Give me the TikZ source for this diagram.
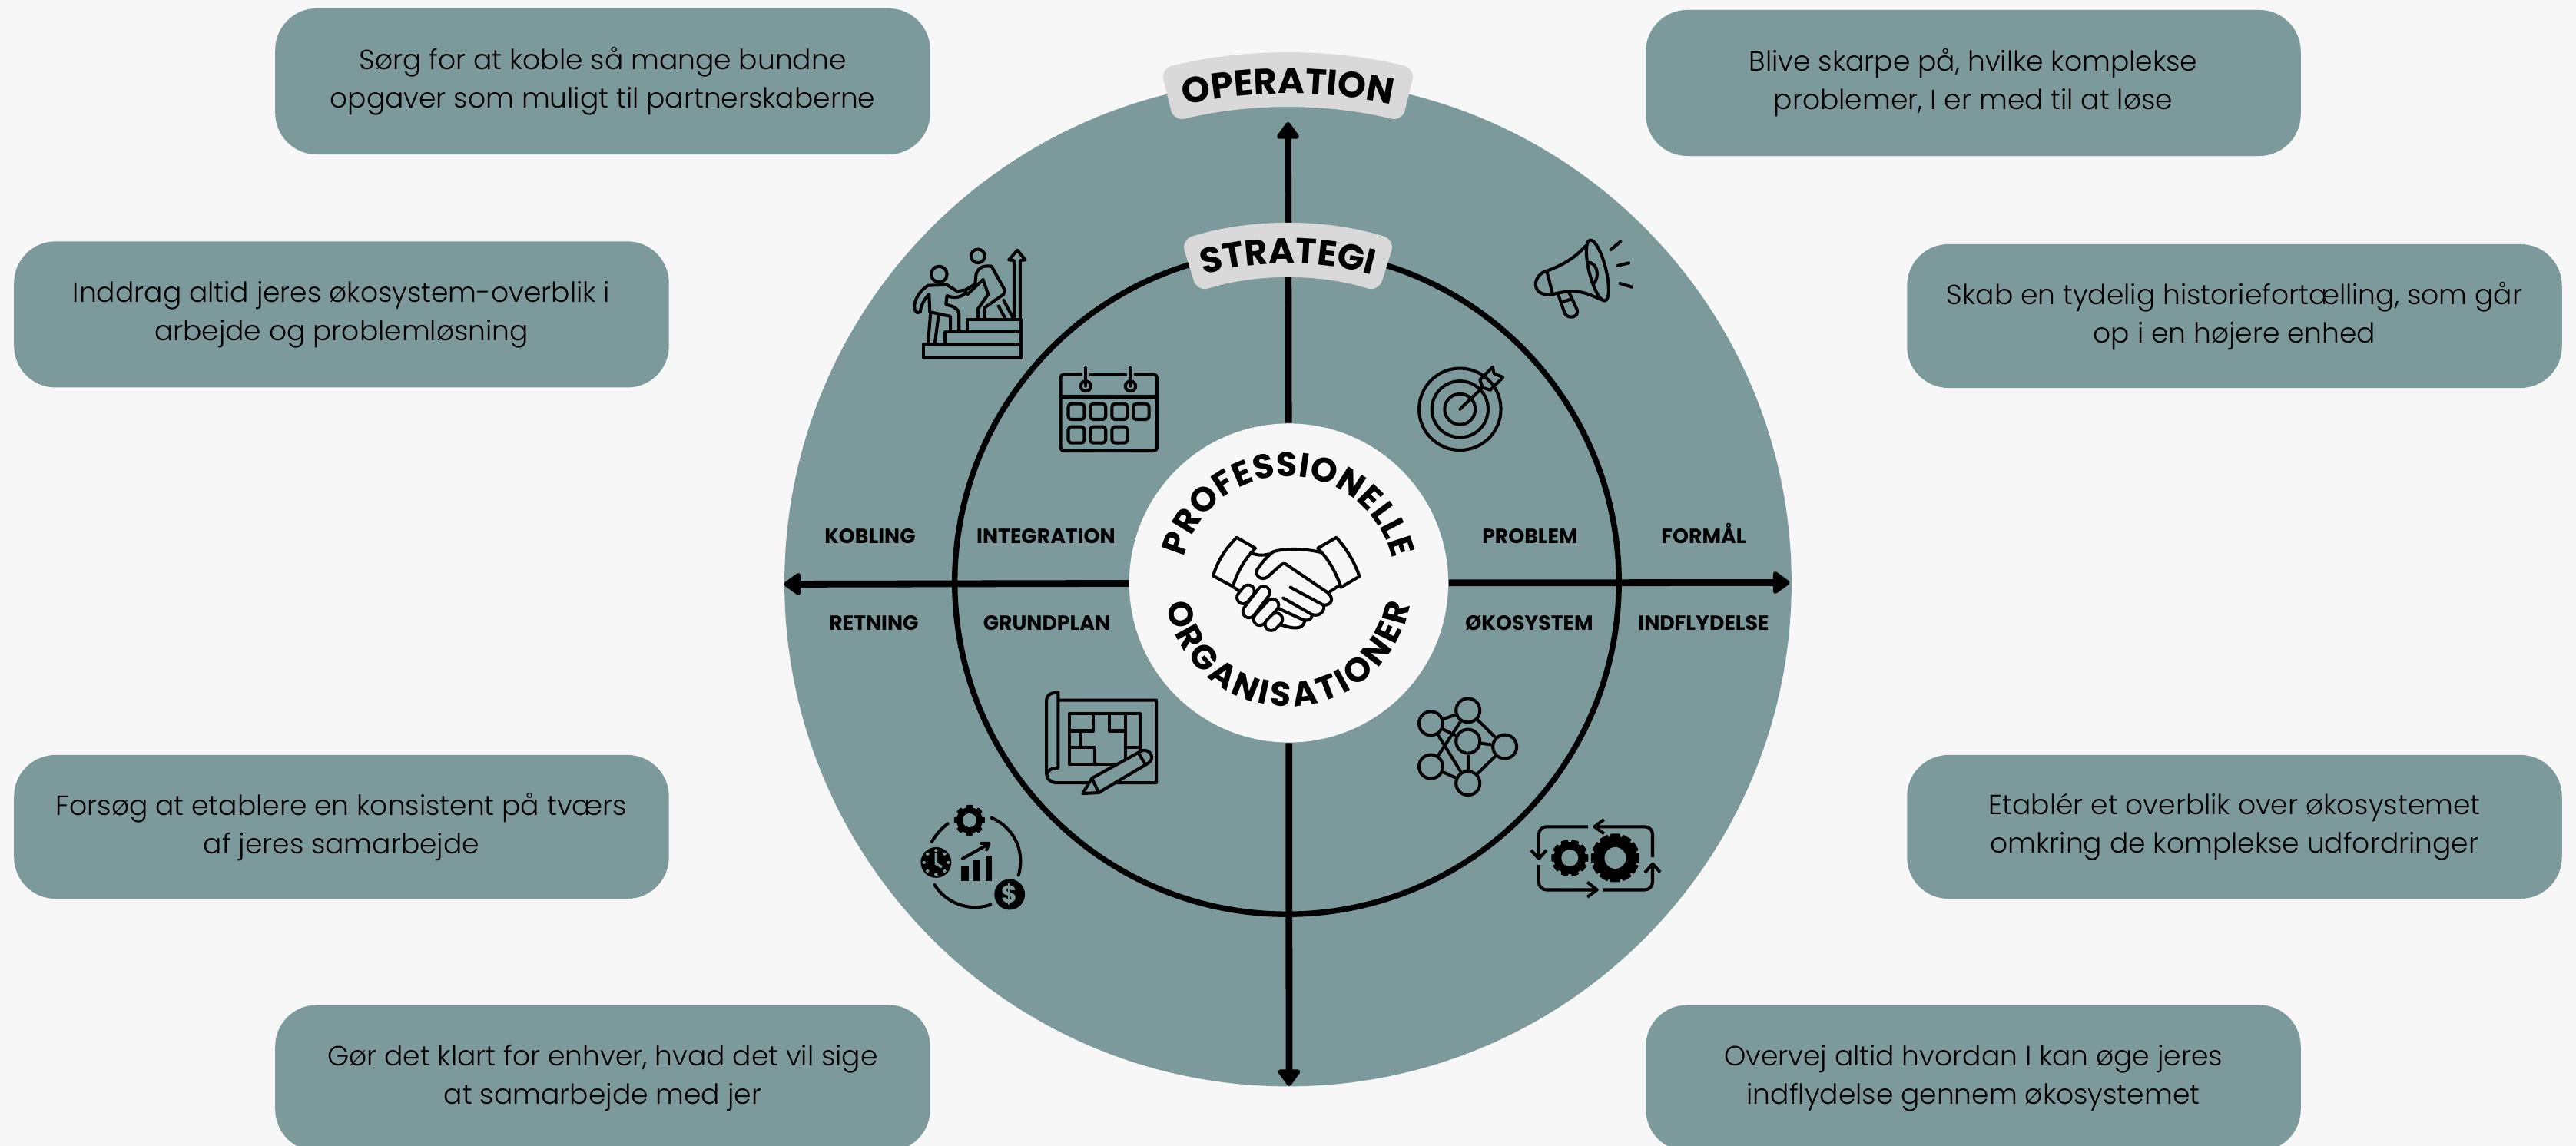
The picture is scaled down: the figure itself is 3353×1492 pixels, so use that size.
\documentclass[tikz,border=0pt]{standalone}
\usepackage{fontspec}
\setmainfont{Poppins Light}[BoldFont = Poppins Bold]
\usetikzlibrary{arrows.meta,decorations.text}
\definecolor{diskcolor}{HTML}{7C9A9C}
\definecolor{pagecolor}{HTML}{F7F7F7}
\definecolor{bandcolor}{HTML}{D9D9D9}
\tikzset{
  advicebox/.style = {fill = diskcolor, rounded corners = 0.54cm, minimum width = 8.52cm, minimum height = 1.9cm, inner sep = 0pt, align = center, font = \fontsize{10.25}{14.2}\selectfont},
  quadlabel/.style = {font = \fontsize{7.6}{8}\selectfont\bfseries, inner sep = 0pt, anchor = base},
  axisline/.style = {draw = black, line width = 2.5pt, -{Triangle[round, length = 0.24cm, width = 0.33cm]}},
  iconline/.style = {draw = black, line width = 1.15pt, line cap = round, line join = round},
  netnode/.style = {circle, draw = black, line width = 1.15pt, minimum size = 0.31cm, inner sep = 0pt},
  bandtext/.style = {decorate, decoration = {text along path, text align = {center}, text = {#1}}},
  hubtext/.style = {decorate, decoration = {text along path, text align = {fit to path}, text = {#1}}},
  zoomA/.style = {shift = {(-676.5,759)}, x = 0.0044643cm, y = -0.003827cm},
  zoomB/.style = {shift = {(23.5,559)}, x = 0.003333cm, y = -0.003333cm},
  zoomC/.style = {shift = {(-676.5,-91)}, x = 0.003827cm, y = -0.003333cm},
  zoomD/.style = {shift = {(73.5,-91)}, x = 0.003333cm, y = -0.003333cm},
  zoomE/.style = {shift = {(-226.5,219)}, x = 0.003333cm, y = -0.003333cm}
}
\begin{document}
\begin{tikzpicture}[x = 0.01cm, y = 0.01cm]
\fill [pagecolor] (-1676.5,759) rectangle (1676.5,-733);
\useasboundingbox (-1676.5,759) rectangle (1676.5,-733);
\node (opdisk) [circle, fill = diskcolor, minimum size = 13.1cm, inner sep = 0pt] at (0,0) {};
\node (stratring) [circle, draw = black, line width = 2.1pt, minimum size = 8.64cm, inner sep = 0pt] at (-1.5,1) {};
\node (hub) [circle, fill = pagecolor, minimum size = 4.15cm, inner sep = 0pt] at (1,0) {};
\coordinate (tiptop) at (0,600);
\coordinate (tipbottom) at (1.5,-655);
\coordinate (tipleft) at (-656,-1.5);
\coordinate (tipright) at (653,0.5);
\foreach \tipname in {tiptop,tipbottom,tipleft,tipright} \draw [axisline] (hub) -- (\tipname);
\foreach \bandout/\bandin/\bandangle in {690/619/13.9,468/397/17.3} \fill [bandcolor, rounded corners = 0.15cm] (90+\bandangle:\bandout) arc [start angle = 90+\bandangle, end angle = 90-\bandangle, radius = \bandout] -- (90-\bandangle:\bandin) arc [start angle = 90-\bandangle, end angle = 90+\bandangle, radius = \bandin] -- cycle;
\path [bandtext = {|\fontsize{13.4}{15}\selectfont\bfseries|OPERATION}] (110:637) arc [start angle = 110, end angle = 70, radius = 637];
\path [bandtext = {|\fontsize{13.2}{15}\selectfont\bfseries|STRATEGI}] (120:416) arc [start angle = 120, end angle = 60, radius = 416];
\path [hubtext = {|\fontsize{12.6}{14}\selectfont\bfseries|PROFESSIONELLE}] (166:139) arc [start angle = 166, end angle = 13, radius = 139];
\path [hubtext = {|\fontsize{12.6}{14}\selectfont\bfseries|ORGANISATIONER}] (190:161) arc [start angle = 190, end angle = 350, radius = 161];
\node (boxa) [advicebox] at (-892,653) {Sørg for at koble så mange bundne\\opgaver som muligt til partnerskaberne};
\node (boxb) [advicebox] at (-1232,349.6) {Inddrag altid jeres økosystem-overblik i\\arbejde og problemløsning};
\node (boxc) [advicebox, minimum height = 1.87cm] at (-1232,-317.5) {Forsøg at etablere en konsistent på tværs\\af jeres samarbejde};
\node (boxd) [advicebox] at (-892,-644.5) {Gør det klart for enhver, hvad det vil sige\\at samarbejde med jer};
\node (boxe) [advicebox] at (892,651) {Blive skarpe på, hvilke komplekse\\problemer, I er med til at løse};
\node (boxf) [advicebox, minimum height = 1.87cm] at (1232,347.5) {Skab en tydelig historiefortælling, som går\\op i en højere enhed};
\node (boxg) [advicebox, minimum height = 1.87cm] at (1232,-317.5) {Etablér et overblik over økosystemet\\omkring de komplekse udfordringer};
\node (boxh) [advicebox] at (892,-644.5) {Overvej altid hvordan I kan øge jeres\\indflydelse gennem økosystemet};
\node (lkobling) [quadlabel] at (-544,51) {KOBLING};
\node (lintegration) [quadlabel] at (-315,51) {INTEGRATION};
\node (lproblem) [quadlabel] at (315,51) {PROBLEM};
\node (lformaal) [quadlabel] at (541,51) {FORMÅL};
\node (lretning) [quadlabel] at (-539,-62) {RETNING};
\node (lgrundplan) [quadlabel] at (-314,-62) {GRUNDPLAN};
\node (lokosystem) [quadlabel] at (314,-62) {ØKOSYSTEM};
\node (lindflydelse) [quadlabel] at (541,-62) {INDFLYDELSE};
\foreach \gearx/\geary/\gearr/\gearh/\gearn in {-414.5/-309/20/9/8,366.8/-358/24/11/10,426/-358/31.5/14/12} {
  \fill [black] (\gearx,\geary) circle (\gearr-3);
  \pgfmathsetmacro\gearstep{360/\gearn}
  \foreach \n in {1,...,\gearn} \fill [black, rotate around = {\n*\gearstep:(\gearx,\geary)}, rounded corners = 0.01cm] (\gearx+\gearr-6,\geary-\gearr*0.2) rectangle (\gearx+\gearr,\geary+\gearr*0.2);
  \fill [diskcolor] (\gearx,\geary) circle (\gearh);
}
\begin{scope}[zoomA]
\draw [iconline] (452,1168) rectangle (735,1215);
\draw [iconline] (515,1128) rectangle (735,1168);
\draw [iconline] (580,1085) rectangle (735,1128);
\draw [iconline] (715,1085) -- (715,885) -- (700,883) -- (725,850) -- (748,883) -- (733,885) -- (733,1085);
\draw [iconline] (497,932) ellipse [x radius = 23, y radius = 27];
\draw [iconline] (610,870) ellipse [x radius = 20, y radius = 23];
\draw [iconline] (442,1060) .. controls (430,1068) and (425,1055) .. (425,1040) .. controls (428,1010) and (445,985) .. (465,970) -- (520,968) -- (550,990) -- (575,985) .. controls (580,1000) and (550,1020) .. (520,1005) -- (517,1035) .. controls (540,1040) and (555,1050) .. (555,1070) -- (555,1125);
\draw [iconline] (442,1060) .. controls (445,1035) and (455,1015) .. (468,1000) -- (470,1060) -- (530,1075) -- (530,1125);
\draw [iconline] (472,1068) -- (465,1165);
\draw [iconline] (495,1075) -- (485,1165);
\draw [iconline] (575,985) -- (602,965) -- (605,930) .. controls (610,915) and (620,900) .. (650,905) -- (688,985) -- (685,1000) -- (630,1045) -- (630,1085);
\draw [iconline] (580,1000) -- (625,950) -- (640,1000) -- (610,1050) -- (610,1085);
\draw [iconline] (670,1040) -- (690,1083);
\draw [iconline] (685,1020) -- (712,1080);
\draw [iconline, rounded corners = 0.04cm] (910,1272) -- (851,1272) -- (851,1532) -- (1131,1532) -- (1131,1272) -- (1068,1272);
\draw [iconline] (938,1274) -- (1040,1274);
\draw [iconline] (851,1348) -- (1131,1348);
\foreach \ringx in {924,1054} {
  \draw [iconline] (\ringx,1250) -- (\ringx,1312);
  \draw [iconline] (\ringx,1312) ellipse [x radius = 15, y radius = 17];
}
\foreach \cellx/\cellw in {873/47,937/45,1000/45,1062/46} \draw [iconline, rounded corners = 0.04cm] (\cellx,1372) rectangle (\cellx+\cellw,1425);
\foreach \cellx/\cellw in {873/47,937/45,1000/45} \draw [iconline, rounded corners = 0.04cm] (\cellx,1450) rectangle (\cellx+\cellw,1505);
\end{scope}
\begin{scope}[zoomB]
\draw [iconline] (602,1000) circle (160);
\draw [iconline] (602,1000) circle (110);
\draw [iconline] (602,1000) circle (60);
\draw [iconline] (602,1000) -- (690,915);
\draw [iconline] (690,915) -- (680,885) -- (730,835) -- (735,860) -- (770,875) -- (720,925) -- cycle;
\draw [iconline] (1095,360) .. controls (1040,420) and (990,440) .. (945,458) .. controls (885,470) and (875,560) .. (960,552) .. controls (1040,530) and (1080,535) .. (1150,570);
\draw [iconline, rotate around = {14:(1140,457)}] (1140,457) ellipse [x radius = 33, y radius = 122];
\draw [iconline] (943,465) -- (965,552);
\draw [iconline] (1100,425) .. controls (1140,425) and (1150,480) .. (1125,510);
\draw [iconline] (985,548) -- (1012,625) .. controls (1025,650) and (1070,640) .. (1060,610) -- (1027,540);
\draw [iconline] (1000,582) -- (1040,568);
\draw [iconline] (1192,376) -- (1230,344);
\draw [iconline] (1220,438) -- (1262,428);
\draw [iconline] (1228,508) -- (1274,522);
\end{scope}
\begin{scope}[zoomC]
\draw [iconline] (985,185) -- (1318,185) -- (1318,508) -- (975,508) .. controls (935,500) and (935,450) .. (985,450) -- (985,155) .. controls (960,155) and (945,165) .. (945,185) -- (945,475);
\draw [iconline] (1023,238) rectangle (1263,436);
\draw [iconline] (1105,238) -- (1105,305) -- (1023,305);
\draw [iconline] (1158,238) -- (1158,305) -- (1213,305);
\draw [iconline] (1213,238) -- (1213,436);
\draw [iconline] (1062,305) -- (1062,370) -- (1023,370);
\draw [iconline] (1062,370) -- (1108,370) -- (1108,436);
\draw [iconline] (1213,370) -- (1263,370);
\draw [iconline, fill = diskcolor] (1100,490) -- (1270,382) .. controls (1300,375) and (1315,415) .. (1290,432) -- (1122,547) -- (1068,550) -- cycle;
\draw [iconline] (1100,492) -- (1122,545);
\draw [iconline] (1258,392) -- (1280,435);
\fill [black] (570,820) ellipse [x radius = 52, y radius = 60];
\foreach \n in {0,45,...,315} \fill [diskcolor] (570+41*cos \n,820+47*sin \n) circle (6);
\draw [draw = diskcolor, line width = 1pt] (570,785) -- (570,825) -- (590,838);
\fill [black] (655,835) rectangle (680,893);
\fill [black] (697,812) rectangle (720,893);
\fill [black] (738,793) rectangle (760,893);
\draw [iconline] (660,805) -- (745,750);
\draw [iconline] (722,745) -- (750,745) -- (742,770);
\fill [black] (820,945) ellipse [x radius = 52, y radius = 60];
\node (dollarmark) [text = diskcolor, inner sep = 0pt, font = \fontsize{9}{9}\selectfont\bfseries] at (820,945) {\$};
\draw [iconline] (555,740) .. controls (570,710) and (590,685) .. (610,668);
\draw [iconline] (758,645) .. controls (830,680) and (875,770) .. (850,870);
\draw [iconline] (565,907) .. controls (600,975) and (680,1015) .. (755,985);
\end{scope}
\begin{scope}[zoomD]
\node (neta) [netnode] at (338,276) {};
\node (netb) [netnode] at (483,225) {};
\node (netc) [netnode] at (483,346) {};
\node (netd) [netnode] at (627,367) {};
\node (nete) [netnode] at (338,445) {};
\node (netf) [netnode] at (483,510) {};
\foreach \neta/\netb in {neta/netb,neta/netc,neta/netf,netb/netd,netb/nete,netc/netd,netc/netf,netd/netf,nete/netf} \draw [iconline, line cap = butt] (\neta) -- (\netb);
\draw [iconline, line cap = butt, rounded corners = 0.1cm] (952,680) -- (760,680) -- (760,805);
\draw [iconline, line cap = butt] (730,772) -- (760,805) -- (790,772);
\draw [iconline, line cap = butt, rounded corners = 0.1cm] (978,680) -- (1205,680) -- (1205,800);
\draw [iconline, line cap = butt] (1015,652) -- (978,680) -- (1015,707);
\draw [iconline, line cap = butt, rounded corners = 0.1cm] (760,830) -- (760,927) -- (985,927);
\draw [iconline, line cap = butt] (950,897) -- (988,927) -- (950,955);
\draw [iconline, line cap = butt, rounded corners = 0.1cm] (1010,927) -- (1205,927) -- (1205,825);
\draw [iconline, line cap = butt] (1175,860) -- (1205,825) -- (1235,858);
\end{scope}
\begin{scope}[zoomE]
\draw [iconline] (388,630) .. controls (405,570) and (440,520) .. (480,480) -- (553,522) .. controls (510,565) and (480,620) .. (465,672) -- cycle;
\draw [iconline] (535,540) .. controls (560,550) and (580,552) .. (605,545);
\draw [iconline] (465,672) -- (490,690);
\draw [iconline] (960,632) .. controls (940,575) and (910,525) .. (870,480) -- (797,522) .. controls (840,565) and (870,620) .. (888,675) -- cycle;
\draw [iconline] (810,538) .. controls (750,525) and (680,520) .. (625,535) .. controls (600,550) and (575,585) .. (560,605) .. controls (550,630) and (575,650) .. (600,635) -- (650,590) .. controls (660,580) and (670,580) .. (680,590) -- (835,695) .. controls (860,715) and (855,745) .. (820,745) -- (690,675);
\draw [iconline] (820,745) .. controls (825,770) and (805,790) .. (775,782) -- (662,717);
\draw [iconline] (775,782) .. controls (775,800) and (760,810) .. (735,800) -- (648,760);
\draw [iconline] (745,805) .. controls (745,830) and (720,838) .. (690,832) -- (652,822);
\draw [iconline] (840,695) -- (885,665);
\foreach \fingerxa/\fingerya/\fingerxb/\fingeryb in {505/715/525/690,528/770/585/695,570/800/620/745,615/820/635/800} {
  \draw [black, line width = 0.2cm, line cap = round] (\fingerxa,\fingerya) -- (\fingerxb,\fingeryb);
  \draw [pagecolor, line width = 0.12cm, line cap = round] (\fingerxa,\fingerya) -- (\fingerxb,\fingeryb);
}
\end{scope}
\end{tikzpicture}
\end{document}
